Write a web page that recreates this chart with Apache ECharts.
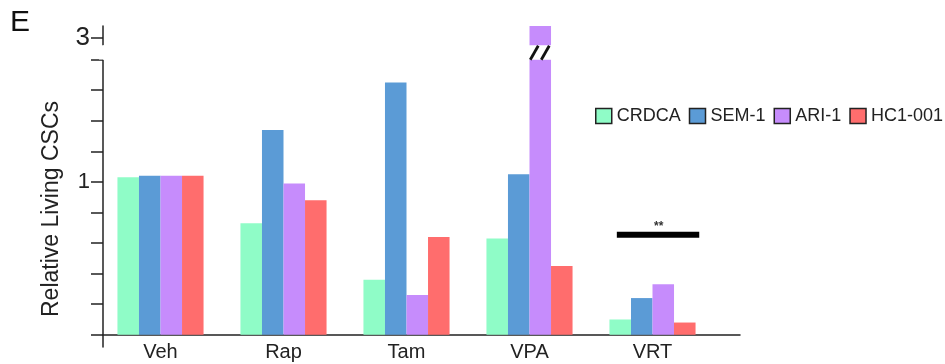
<!DOCTYPE html>
<html><head><meta charset="utf-8">
<script src="https://cdn.jsdelivr.net/npm/echarts@6/dist/echarts.min.js"></script>
<style>html,body{margin:0;padding:0;background:#fff}#c{width:945px;height:364px}</style>
</head><body><div id="c"></div>
<script>
const categories = ['Veh', 'Rap', 'Tam', 'VPA', 'VRT'];
const seriesNames = ['CRDCA', 'SEM-1', 'ARI-1', 'HC1-001'];
const crdca = [1.03, 0.73, 0.36, 0.63, 0.10];
const sem1  = [1.04, 1.34, 1.65, 1.05, 0.24];
const ari1  = [1.04, 0.99, 0.26, 3.08, 0.33];
const hc1   = [1.04, 0.88, 0.64, 0.45, 0.08];
const seriesValues = [crdca, sem1, ari1, hc1];
const colors = ['#8ffcc7', '#5b9bd6', '#c68cfc', '#ff6d6d'];
const yTickValues = [0, 0.2, 0.4, 0.6, 0.8, 1, 1.2, 1.4, 1.6, 1.8, 3];
const yLabelValues = [1, 3];
const yMin = -0.08, yMax = 3.08;
const breakStart = 1.8, breakEnd = 2.955;
const sigMark = [['VRT', 0.654]];
const sigText = '**';
const breakMark = [['VPA', 2.34]];

const FONT = 'Liberation Sans, Arial, sans-serif';
const chart = echarts.init(document.getElementById('c'), null, {renderer: 'canvas'});

function yAxisCfg(gridIndex, visible) {
  return {
    type: 'value', gridIndex: gridIndex, min: yMin, max: yMax,
    breaks: [{start: breakStart, end: breakEnd, gap: '4.5%'}],
    breakArea: {show: true, zigzagAmplitude: 0, expandOnClick: false,
      itemStyle: {color: '#fff', borderColor: '#fff', borderWidth: 0, opacity: 1}},
    axisLine: {show: visible, onZero: false, lineStyle: {color: '#222', width: 1.5}},
    axisTick: {show: visible, length: 12, customValues: yTickValues, lineStyle: {color: '#222', width: 1.5}},
    axisLabel: {show: visible, customValues: yLabelValues, margin: 13, color: '#222', fontSize: 22, fontFamily: FONT,
      formatter: function (v) { return v === 3 ? '{b|3}' : String(v); },
      rich: {b: {fontSize: 26, color: '#222', fontFamily: FONT}}},
    splitLine: {show: false},
    name: visible ? 'Relative Living CSCs' : '',
    nameLocation: 'middle', nameRotate: 90, nameGap: 40,
    nameTextStyle: {fontSize: 23, color: '#222', fontFamily: FONT, padding: [0, 45, 0, 0]}
  };
}

const barSeries = seriesNames.map(function (n, i) {
  return {
    name: n, type: 'bar', xAxisIndex: 0, yAxisIndex: 0,
    data: seriesValues[i], barGap: '0%', barCategoryGap: '30%',
    itemStyle: {color: colors[i]}
  };
});

const option = {
  animation: false,
  textStyle: {fontFamily: FONT},
  title: {text: 'E', left: 5, top: 3, textStyle: {fontSize: 30, fontWeight: 'normal', color: '#111', fontFamily: FONT}},
  legend: {
    left: 595, top: 107, width: 350, padding: 0, itemWidth: 16, itemHeight: 15, itemGap: 8, icon: 'rect',
    itemStyle: {borderColor: '#222', borderWidth: 1.5},
    textStyle: {fontSize: 18, color: '#222', fontFamily: FONT},
    data: seriesNames
  },
  color: colors,
  grid: [
    {left: 99, width: 615, top: 26, bottom: 17, containLabel: false, outerBoundsMode: 'none'},
    {left: 103, width: 637, top: 26, bottom: 17, containLabel: false, outerBoundsMode: 'none'}
  ],
  xAxis: [
    {type: 'category', gridIndex: 0, data: categories,
      axisLine: {show: false}, axisTick: {show: false},
      axisLabel: {fontSize: 20, color: '#222', margin: -5, fontFamily: FONT}},
    {type: 'value', gridIndex: 1, min: 0, max: 1,
      axisLine: {show: true, onZero: true, lineStyle: {color: '#222', width: 1.5}},
      axisTick: {show: false}, axisLabel: {show: false}, splitLine: {show: false}}
  ],
  yAxis: [yAxisCfg(0, false), yAxisCfg(1, true)],
  series: barSeries.concat([
    {
      type: 'custom', xAxisIndex: 0, yAxisIndex: 0, z: 100, zlevel: 1, silent: true,
      data: sigMark,
      renderItem: function (params, api) {
        const p = api.coord([api.value(0), api.value(1)]);
        const band = api.size([1, 0])[0];
        return {type: 'group', children: [
          {type: 'rect', shape: {x: p[0] - 0.29 * band, y: p[1] - 3, width: 0.67 * band, height: 6}, style: {fill: '#000'}},
          {type: 'text', style: {text: sigText, x: p[0] + 0.05 * band, y: p[1] - 8, align: 'center', verticalAlign: 'middle',
            fill: '#333', font: 'bold 12px ' + FONT}}
        ]};
      }
    },
    {
      type: 'custom', xAxisIndex: 0, yAxisIndex: 0, z: 100, zlevel: 1, silent: true,
      data: breakMark,
      renderItem: function (params, api) {
        const p = api.coord([api.value(0), api.value(1)]);
        const band = api.size([1, 0])[0];
        const bw = band * 0.7 / 4;
        const cx = p[0] + 0.5 * bw, cy = p[1];
        return {type: 'group', children: [
          {type: 'line', shape: {x1: cx - 10, y1: cy + 7, x2: cx - 2, y2: cy - 7}, style: {stroke: '#111', lineWidth: 2.8}},
          {type: 'line', shape: {x1: cx + 1, y1: cy + 7, x2: cx + 9, y2: cy - 7}, style: {stroke: '#111', lineWidth: 2.8}}
        ]};
      }
    }
  ])
};
chart.setOption(option);
</script>
</body></html>
